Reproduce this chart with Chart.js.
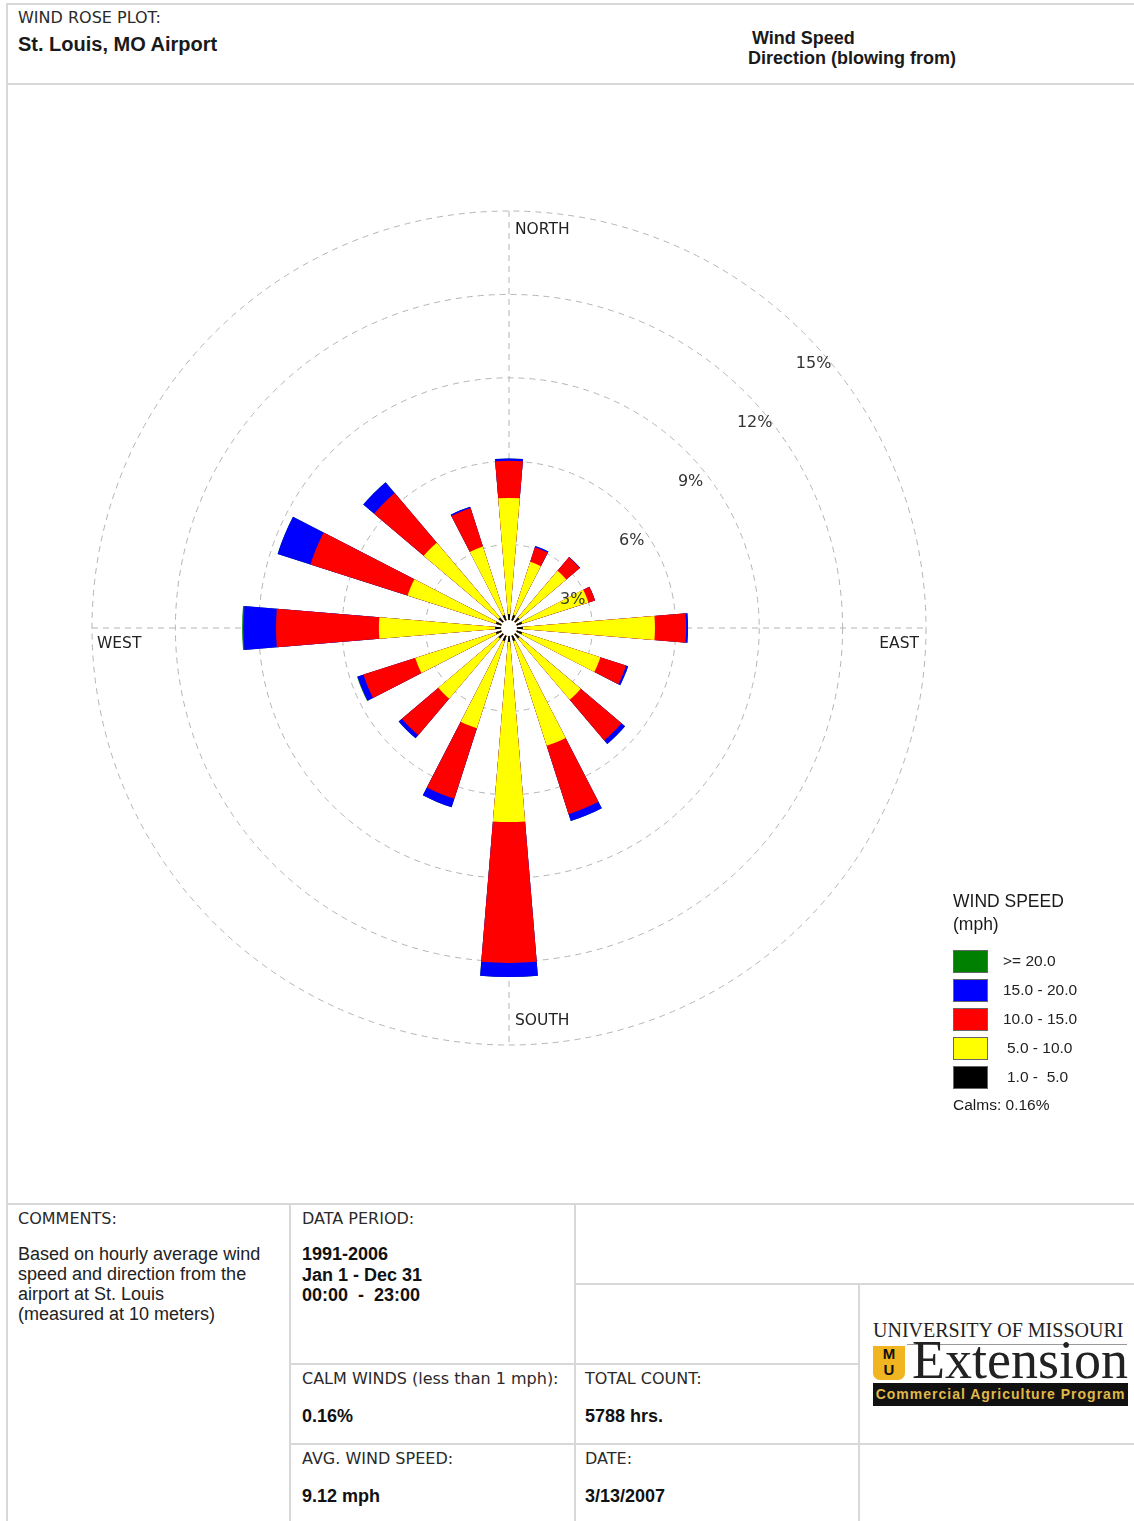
<!DOCTYPE html>
<html lang="en">
<head>
<meta charset="utf-8">
<title>Wind Rose Plot - St. Louis, MO Airport</title>
<script src="https://cdn.jsdelivr.net/npm/chart.js"></script>
<style>
body { margin: 0; background: #fff; font-family: "Liberation Sans", Arial, sans-serif; color: #1a1a1a; }
.page { position: relative; width: 1134px; height: 1521px; overflow: hidden; background: #fff; }
.t { position: absolute; white-space: nowrap; line-height: 20px; }
.lbl { font-family: "DejaVu Sans", Verdana, sans-serif; font-size: 16px; color: #2a2a2a; }
.val { font-weight: bold; font-size: 18px; color: #111; }
.hl { position: absolute; height: 2px; background: #d8d8d8; }
.vl { position: absolute; width: 2px; background: #d8d8d8; }
#rose { position: absolute; left: 59px; top: 178px; }
.sw { position: absolute; left: 953px; width: 33px; height: 21px; border: 1px solid #666; }
.swl { position: absolute; left: 1003px; font-size: 15.5px; line-height: 20px; color: #222; white-space: nowrap; }
.serif { font-family: "Liberation Serif", "DejaVu Serif", serif; color: #222; }
</style>
</head>
<body>
<div class="page">
  <!-- header box -->
  <div class="hl" style="left:7px; top:3px; width:1127px;"></div>
  <div class="vl" style="left:6px; top:3px; height:1518px;"></div>
  <div class="hl" style="left:7px; top:83px; width:1127px;"></div>
  <div class="t lbl" style="left:18px; top:8px;">WIND ROSE PLOT:</div>
  <div class="t" style="left:18px; top:34px; font-size:20px; font-weight:bold;">St. Louis, MO Airport</div>
  <div class="t" style="left:752px; top:28px; font-size:18px; font-weight:bold;">Wind Speed</div>
  <div class="t" style="left:748px; top:48px; font-size:18px; font-weight:bold;">Direction (blowing from)</div>

  <canvas id="rose" width="900" height="900"></canvas>

  <!-- legend -->
  <div class="t" style="left:953px; top:891px; font-size:17.5px;">WIND SPEED</div>
  <div class="t" style="left:953px; top:914px; font-size:17.5px;">(mph)</div>
  <div id="legend"></div>
  <div class="t" style="left:953px; top:1095px; font-size:15.5px;" id="calms"></div>

  <!-- bottom table -->
  <div class="hl" style="left:7px; top:1203px; width:1127px;"></div>
  <div class="vl" style="left:289px; top:1203px; height:318px;"></div>
  <div class="vl" style="left:574px; top:1203px; height:318px;"></div>
  <div class="hl" style="left:574px; top:1283px; width:560px;"></div>
  <div class="vl" style="left:858px; top:1283px; height:238px;"></div>
  <div class="hl" style="left:289px; top:1363px; width:569px;"></div>
  <div class="hl" style="left:289px; top:1443px; width:845px;"></div>

  <div class="t lbl" style="left:18px; top:1209px;">COMMENTS:</div>
  <div class="t" style="left:18px; top:1244px; font-size:18px; color:#222;">Based on hourly average wind<br>speed and direction from the<br>airport at St. Louis<br>(measured at 10 meters)</div>

  <div class="t lbl" style="left:302px; top:1209px;">DATA PERIOD:</div>
  <div class="t val" style="left:302px; top:1244px; line-height:20.5px;">1991-2006<br>Jan 1 - Dec 31<br>00:00 &nbsp;- &nbsp;23:00</div>

  <div class="t lbl" style="left:302px; top:1369px;">CALM WINDS (less than 1 mph):</div>
  <div class="t val" style="left:302px; top:1406px;">0.16%</div>
  <div class="t lbl" style="left:302px; top:1449px;">AVG. WIND SPEED:</div>
  <div class="t val" style="left:302px; top:1486px;">9.12 mph</div>

  <div class="t lbl" style="left:585px; top:1369px;">TOTAL COUNT:</div>
  <div class="t val" style="left:585px; top:1406px;">5788 hrs.</div>
  <div class="t lbl" style="left:585px; top:1449px;">DATE:</div>
  <div class="t val" style="left:585px; top:1486px;">3/13/2007</div>

  <!-- logo -->
  <div class="t serif" style="left:873px; top:1320px; font-size:20px;">UNIVERSITY OF MISSOURI</div>
  <div style="position:absolute; left:907px; top:1344px; width:220px; height:1px; background:#999;"></div>
  <div style="position:absolute; left:873px; top:1346px; width:32px; height:34px; background:#f1b521; border-radius:0 0 7px 7px; text-align:center; font:bold 15px 'Liberation Sans', Arial, sans-serif; line-height:16px; color:#111;">M<br>U</div>
  <div class="t serif" style="left:912px; top:1333px; font-size:54px; line-height:54px;">Extension</div>
  <div style="position:absolute; left:873px; top:1383px; width:255px; height:23px; background:#111; color:#e0b84a; font:bold 14px 'Liberation Sans', Arial, sans-serif; letter-spacing:1px; line-height:23px; text-align:center; white-space:nowrap;">Commercial Agriculture Program</div>
</div>

<script>
// wind directions (blowing from), clockwise from north
const directions = ['N', 'NNE', 'NE', 'ENE', 'E', 'ESE', 'SE', 'SSE', 'S', 'SSW', 'SW', 'WSW', 'W', 'WNW', 'NW', 'NNW'];

// speed classes, from the center outward
const speedBands = ['1.0 -  5.0', '5.0 - 10.0', '10.0 - 15.0', '15.0 - 20.0', '>= 20.0'];
const bandColors = ['#000000', '#ffff00', '#ff0000', '#0000ff', '#008000'];

// percent of hours for each direction, per speed class
const speed1to5   = [0.50, 0.50, 0.50, 0.50, 0.50, 0.50, 0.50, 0.50, 0.50, 0.50, 0.50, 0.50, 0.50, 0.50, 0.50, 0.50];
const speed5to10  = [4.18, 2.00, 2.20, 2.50, 4.75, 2.95, 2.88, 3.95, 6.48, 3.29, 2.83, 3.04, 4.18, 3.33, 3.52, 2.58];
const speed10to15 = [1.34, 0.55, 0.63, 0.25, 1.12, 0.97, 1.92, 2.58, 5.07, 2.66, 1.72, 1.96, 3.70, 3.67, 2.34, 1.45];
const speed15to20 = [0.08, 0.05, 0.02, 0.00, 0.07, 0.08, 0.17, 0.26, 0.50, 0.32, 0.15, 0.22, 1.17, 1.24, 0.51, 0.05];
const speed20up   = [0.00, 0.00, 0.00, 0.00, 0.00, 0.00, 0.00, 0.00, 0.00, 0.00, 0.00, 0.02, 0.05, 0.00, 0.00, 0.00];

const ringTicks = [3, 6, 9, 12, 15];
const compassLabels = ['NORTH', 'EAST', 'SOUTH', 'WEST'];
const calmsPct = 0.16;

const wedgeAngle = 9.5;             // degrees covered by each petal
const gapAngle = 22.5 - wedgeAngle;  // empty space between petals

// stack the classes: each layer is drawn as the running total, smallest on top
const bands = [speed1to5, speed5to10, speed10to15, speed15to20, speed20up];
let running = directions.map(() => 0);
const datasets = bands.map((band, b) => {
  running = running.map((v, i) => v + band[i]);
  const data = [];
  running.forEach(v => { data.push(+v.toFixed(2)); data.push(0); });
  return {
    label: speedBands[b],
    data: data,
    backgroundColor: bandColors[b],
    borderWidth: 0,
    angle: ctx => (ctx.dataIndex % 2 === 0 ? wedgeAngle : gapAngle)
  };
});
const wedgeLabels = [];
directions.forEach(d => { wedgeLabels.push(d); wedgeLabels.push(''); });

// legend (top = fastest)
const legend = document.getElementById('legend');
for (let b = speedBands.length - 1, row = 0; b >= 0; b--, row++) {
  const y = 950 + row * 29;
  legend.innerHTML += '<div class="sw" style="top:' + y + 'px; background:' + bandColors[b] + ';"></div>' +
    '<div class="swl" style="top:' + (y + 1) + 'px;' + (b < 2 ? ' left:1007px;' : '') + '">' + speedBands[b].replace('  ', '&nbsp; ') + '</div>';
}
document.getElementById('calms').textContent = 'Calms: ' + calmsPct.toFixed(2) + '%';

const roseDecor = {
  id: 'roseDecor',
  beforeDatasetsDraw(chart) {
    const s = chart.scales.r, ctx = chart.ctx, R = s.drawingArea;
    ctx.save();
    ctx.strokeStyle = '#b4b4b4';
    ctx.lineWidth = 1;
    ctx.setLineDash([6, 5]);
    ctx.beginPath();
    ctx.moveTo(s.xCenter, s.yCenter - R); ctx.lineTo(s.xCenter, s.yCenter + R);
    ctx.moveTo(s.xCenter - R, s.yCenter); ctx.lineTo(s.xCenter + R, s.yCenter);
    ctx.stroke();
    ctx.restore();
  },
  afterDatasetsDraw(chart) {
    const s = chart.scales.r, ctx = chart.ctx, R = s.drawingArea;
    const cx = s.xCenter, cy = s.yCenter;
    ctx.save();
    // calm circle
    ctx.fillStyle = '#fff';
    ctx.beginPath();
    ctx.arc(cx, cy, 8, 0, Math.PI * 2);
    ctx.fill();

    // ring labels along the NE diagonal
    ctx.fillStyle = '#333';
    ctx.font = '16px "DejaVu Sans", Verdana, sans-serif';
    ctx.textAlign = 'left';
    ctx.textBaseline = 'middle';
    ringTicks.forEach(v => {
      const r = s.getDistanceFromCenterForValue(v) * Math.SQRT1_2;
      ctx.fillText(v + '%', cx + r - 8, cy - r + 31);
    });

    // compass labels
    ctx.fillStyle = '#222';
    ctx.font = '15.5px "DejaVu Sans", Verdana, sans-serif';
    ctx.fillText(compassLabels[0], cx + 6, cy - R + 19);
    ctx.fillText(compassLabels[2], cx + 6, cy + R - 24);
    ctx.fillText(compassLabels[3], cx - R + 5, cy + 16);
    ctx.textAlign = 'right';
    ctx.fillText(compassLabels[1], cx + R - 7, cy + 16);
    ctx.restore();
  }
};

new Chart(document.getElementById('rose'), {
  type: 'polarArea',
  data: { labels: wedgeLabels, datasets: datasets },
  options: {
    responsive: false,
    animation: false,
    events: [],
    layout: { padding: 33 },
    plugins: { legend: { display: false }, tooltip: { enabled: false } },
    scales: {
      r: {
        min: 0,
        max: ringTicks[ringTicks.length - 1],
        startAngle: -wedgeAngle / 2,
        ticks: { display: false, stepSize: 3 },
        grid: { color: '#b4b4b4', lineWidth: 1, circular: true },
        border: { dash: [6, 5] },
        angleLines: { display: false },
        pointLabels: { display: false }
      }
    }
  },
  plugins: [roseDecor]
});
</script>
</body>
</html>
